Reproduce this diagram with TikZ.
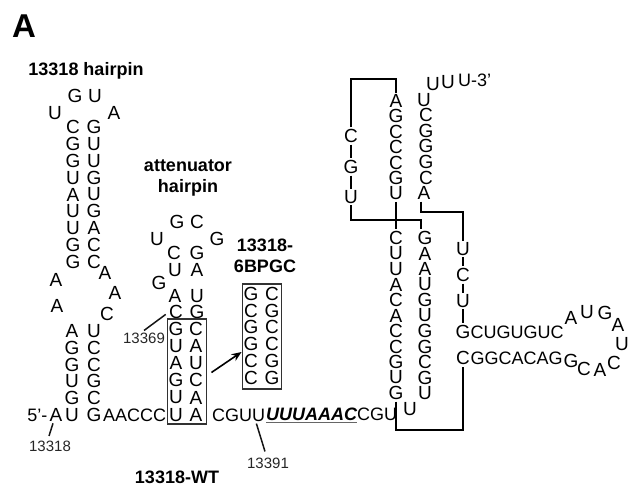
\documentclass[tikz,border=0pt]{standalone}
\usepackage{fontspec}
\setmainfont{Liberation Sans}
\usetikzlibrary{arrows.meta}
\definecolor{boxline}{RGB}{50,50,50}
\definecolor{tickline}{RGB}{20,20,20}

\begin{document}
\begin{tikzpicture}[
    x=1pt, y=-1pt,
    nuc/.style={font=\fontsize{19}{20}\selectfont, inner xsep=0pt, inner ysep=1.6pt},
    run/.style={font=\fontsize{18}{20}\selectfont, anchor=west, inner xsep=0pt, inner ysep=2pt},
    ttl/.style={font=\fontsize{18}{21}\selectfont\bfseries, inner sep=0pt, align=center},
    tag/.style={font=\fontsize{15}{17}\selectfont, text=black!85, inner sep=0pt},
    frame/.style={draw=boxline, line width=1.4pt, inner sep=0pt},
    bond/.style={draw=black, line width=2pt},
    tick/.style={draw=tickline, line width=1.5pt},
    arrow/.style={draw=black, line width=1.6pt, -{Stealth[length=10pt,width=8pt]}},
]
\useasboundingbox (0,0) rectangle (638,488);

% Titulos
\node[font=\fontsize{33}{35}\selectfont\bfseries, inner sep=0pt] (panel) at (24,26) {A};
\node[ttl] (t13318) at (86,71) {13318 hairpin};
\node[ttl] (tatt) at (188,178) {attenuator\\hairpin};
\node[ttl] (tgc) at (265,256) {13318-\\6BPGC};
\node[ttl] (twt) at (177,477) {13318-WT};

% Hairpin 13318
\foreach \nuc/\px/\py [count=\i] in {G/75/96, U/95/96, U/55/113, A/114/113, A/105/273,
    A/56/280, A/115/293, A/57/306, C/107/314}
    \node[nuc] (hl\i) at (\px,\py) {\nuc};
\foreach \left/\right [count=\i] in {C/G,G/U,G/U,U/G,A/U,U/G,U/A,G/C,G/C} {
    \node[nuc] (ha\i) at (73,{110+16.9*\i}) {\left};
    \node[nuc] (hb\i) at (94,{110+16.9*\i}) {\right};
}
\foreach \left/\right [count=\i] in {A/U,G/C,G/C,U/G,G/C,U/G} {
    \node[nuc] (ba\i) at (72,{314.2+16.8*\i}) {\left};
    \node[nuc] (bb\i) at (94,{314.2+16.8*\i}) {\right};
}

% Hairpin atenuador
\foreach \nuc/\px/\py [count=\i] in {G/177/222, C/197/222, U/157/239, G/217/239,
    C/174/253, G/197/253, U/175/270, A/197/270, G/159/283, A/175/296, U/197/296,
    C/176/312, G/197/312}
    \node[nuc] (al\i) at (\px,\py) {\nuc};
\foreach \left/\right [count=\i] in {G/C,U/A,A/U,G/C,U/A,U/A} {
    \node[nuc] (wa\i) at (176,{312+17.1*\i}) {\left};
    \node[nuc] (wb\i) at (196,{312+17.1*\i}) {\right};
}
\node[frame, minimum width=39.5pt, minimum height=105pt] (box1) at (187,371.5) {};

% Mutante 6BPGC
\foreach \left/\right [count=\i] in {G/C,C/G,G/C,G/C,C/G,C/G} {
    \node[nuc] (ga\i) at (251,{277+16.8*\i}) {\left};
    \node[nuc] (gb\i) at (272,{277+16.8*\i}) {\right};
}
\node[frame, minimum width=39.5pt, minimum height=105pt] (box2) at (262,336.5) {};
\draw[arrow] ([shift={(4,1)}]box1.east) -- ([yshift=-15.5]box2.west);

% Fila inferior
\node[run, anchor=east] (five) at (47.5,415) {5’-};
\node[nuc] (a13318) at (56,415) {A};
\node[run] (aac) at (103,415) {AACCC};
\node[run] (cguu) at (212,415) {CGUU};
\node[run, font=\fontsize{18}{20}\selectfont\bfseries\itshape] (uaaac) at (266,414) {UUUAAAC};
\node[run] (cgu) at (357,414) {CGU};
\draw[draw=black!60, line width=1pt] (uaaac.south west) -- (uaaac.south east);

% Etiquetas
\node[tag] (l13318) at (50,446) {13318};
\node[tag] (l13369) at (144,338) {13369};
\node[tag] (l13391) at (268,463) {13391};
\draw[tick] ([xshift=-3]a13318.south) -- ([shift={(-1,-4.5)}]l13318.north);
\draw[tick, shorten >=4pt] ([yshift=2]l13369.north) -- (al12.west);
\draw[tick] ([xshift=-9]cguu.south east) -- ([shift={(-3,-6)}]l13391.north);

% Tallo derecho
\foreach \nuc [count=\i] in {A,G,C,C,C,G,U}
    \node[nuc] (ua\i) at (396,{85.6+15.4*\i}) {\nuc};
\foreach \nuc/\px [count=\i] in {U/424,C/426,G/426,G/426,G/426,C/426,A/424}
    \node[nuc] (ub\i) at (\px,{84+15.6*\i}) {\nuc};
\foreach \nuc [count=\i] in {C,U,U,A,C,A,C,C,G,U,G}
    \node[nuc] (la\i) at (396,{222.5+15.5*\i}) {\nuc};
\foreach \nuc [count=\i] in {G,A,A,U,G,U,G,G,C,G,U}
    \node[nuc] (lb\i) at (425,{222.5+15.5*\i}) {\nuc};
\node[nuc] (ubul) at (410,409) {U};

% Cola 3'
\node[nuc] (tail1) at (433,84) {U};
\node[nuc] (tail2) at (448,82) {U};
\node[run] (tail3) at (458,80) {U-3’};

% Rama izquierda y rama derecha
\foreach \nuc/\py [count=\i] in {C/136,G/167,U/197}
    \node[nuc] (kl\i) at (351,\py) {\nuc};
\foreach \nuc/\py [count=\i] in {U/249,C/275,U/301,G/332}
    \node[nuc] (kr\i) at (463,\py) {\nuc};
\node[nuc] (kr5) at (463,358) {C};

% Lazo final
\node[run] (gcu) at (470.5,332) {CUGUGUC};
\node[run] (cgg) at (470.5,358) {GGCACAG};
\foreach \nuc/\px/\py [count=\i] in {A/571/318, U/587/312, G/605/313, A/618/325,
    U/622/344, C/614/363, A/600/370, C/584/369, G/571/361}
    \node[nuc] (lp\i) at (\px,\py) {\nuc};

% Esquinas
\coordinate (ctop) at (370,79);
\coordinate (cmid) at (380,220);
\coordinate (cright) at (440,212);
\coordinate (cloop) at (430,430);

% Enlaces
\draw[bond] (kl1.north) |- (ctop) -| (ua1.north);
\draw[bond] (kl1) -- (kl2);
\draw[bond] (kl2) -- (kl3);
\draw[bond] (kl3.south) |- (cmid) -| ([xshift=-4]lb1.north);
\draw[bond] (ua7) -- (la1);
\draw[bond] ([xshift=-3]ub7.south) |- (cright) -| (kr1.north);
\draw[bond] (kr1) -- (kr2);
\draw[bond] (kr2) -- (kr3);
\draw[bond] (kr3) -- (kr4);
\draw[bond] (la11.south) |- (cloop) -| (kr5.south);

\end{tikzpicture}
\end{document}
